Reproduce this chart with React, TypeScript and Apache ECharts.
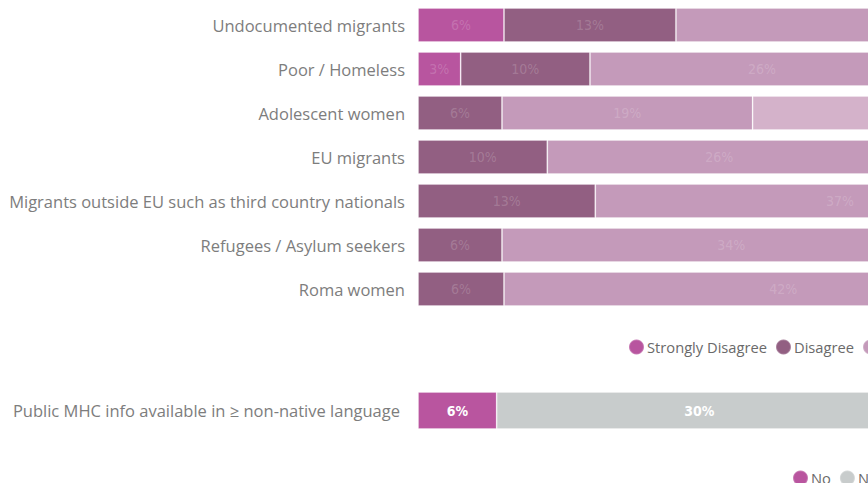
import React, { useEffect, useRef } from "react";
import * as echarts from "echarts";

const categories = [
  "Undocumented migrants",
  "Poor / Homeless",
  "Adolescent women",
  "EU migrants",
  "Migrants outside EU such as third country nationals",
  "Refugees / Asylum seekers",
  "Roma women",
];
const stronglyDisagree = [6.45, 3.2, 0, 0, 0, 0, 0];
const disagree = [12.9, 9.7, 6.3, 9.7, 13.3, 6.3, 6.45];
const agree = [32.3, 25.8, 18.8, 25.8, 36.7, 34.4, 41.9];
const stronglyAgree = [48.35, 61.3, 74.9, 64.5, 50.0, 59.3, 51.65];

const bottomCategory = ["Public MHC info available in \u2265 non-native language"];
const answerNo = [5.9];
const answerNotSure = [30.4];
const answerYes = [63.7];

const topNames = ["Strongly Disagree", "Disagree", "Agree", "Strongly Agree"];
const topColors = ["#B8559F", "#925F82", "#C49ABA", "#D4B2CA"];
const bottomNames = ["No", "Not sure", "Yes"];
const bottomColors = ["#B9559F", "#C8CCCC", "#8C6A85"];

const LABEL_FONT = "'DejaVu Sans Condensed', Roboto, sans-serif";
const TEXT_FONT = "'Open Sans', 'Noto Sans', sans-serif";

export default function App() {
  const ref = useRef<HTMLDivElement>(null);
  useEffect(() => {
    if (!ref.current) return;
    const chart = echarts.init(ref.current, undefined, { renderer: "svg" });
    const fmt = (p: any) => (p.value ? `${Math.round(p.value)}%` : "");
    const topSeries = [stronglyDisagree, disagree, agree, stronglyAgree].map((arr, i) => ({
      name: topNames[i],
      type: "bar",
      stack: "top",
      xAxisIndex: 0,
      yAxisIndex: 0,
      barWidth: 34,
      data: arr.map((v) => (v === 0 ? null : v)),
      itemStyle: { color: topColors[i], borderColor: "rgba(255,255,255,0.22)", borderWidth: 1 },
      label: {
        show: true,
        position: "inside",
        formatter: fmt,
        color: "rgba(255,255,255,0.18)",
        fontSize: 14,
        fontFamily: LABEL_FONT,
      },
    }));
    const bottomSeries = [answerNo, answerNotSure, answerYes].map((arr, i) => ({
      name: bottomNames[i],
      type: "bar",
      stack: "bottom",
      xAxisIndex: 1,
      yAxisIndex: 1,
      barWidth: 37,
      data: arr,
      itemStyle: { color: bottomColors[i], borderColor: "rgba(255,255,255,0.22)", borderWidth: 1 },
      label: {
        show: true,
        position: "inside",
        formatter: fmt,
        color: "#ffffff",
        fontWeight: "bold",
        fontSize: 14,
        fontFamily: LABEL_FONT,
      },
    }));
    const catAxis = (gridIndex: number, data: string[], margin: number) => ({
      type: "category",
      gridIndex,
      data,
      inverse: true,
      axisLine: { show: false },
      axisTick: { show: false },
      splitLine: { show: false },
      axisLabel: { margin, color: "#7D7D7D", fontSize: 16.5, fontFamily: TEXT_FONT },
    });
    const legendBase = {
      orient: "horizontal",
      icon: "circle",
      itemWidth: 15,
      itemHeight: 15,
      itemGap: 8,
      padding: 0,
      textStyle: { color: "#6A6A6A", fontSize: 14.7, fontFamily: TEXT_FONT, padding: [0, 0, 0, -2] },
    };
    chart.setOption({
      animation: false,
      grid: [
        { left: 418, top: 3, width: 1333, height: 308 },
        { left: 418, top: 386.5, width: 1333, height: 48 },
      ],
      xAxis: [
        { type: "value", gridIndex: 0, min: 0, max: 100, show: false },
        { type: "value", gridIndex: 1, min: 0, max: 100, show: false },
      ],
      yAxis: [catAxis(0, categories, 13), catAxis(1, bottomCategory, 18)],
      legend: [
        { ...legendBase, data: topNames, left: 628, top: 338.5 },
        { ...legendBase, data: bottomNames, left: 792, top: 469.5 },
      ],
      series: [...topSeries, ...bottomSeries],
    });
    return () => chart.dispose();
  }, []);
  return (
    <div style={{ position: "fixed", left: 0, top: 0, width: 868, height: 483, overflow: "hidden", background: "#fff" }}>
      <div ref={ref} style={{ width: 1790, height: 520 }} />
    </div>
  );
}
